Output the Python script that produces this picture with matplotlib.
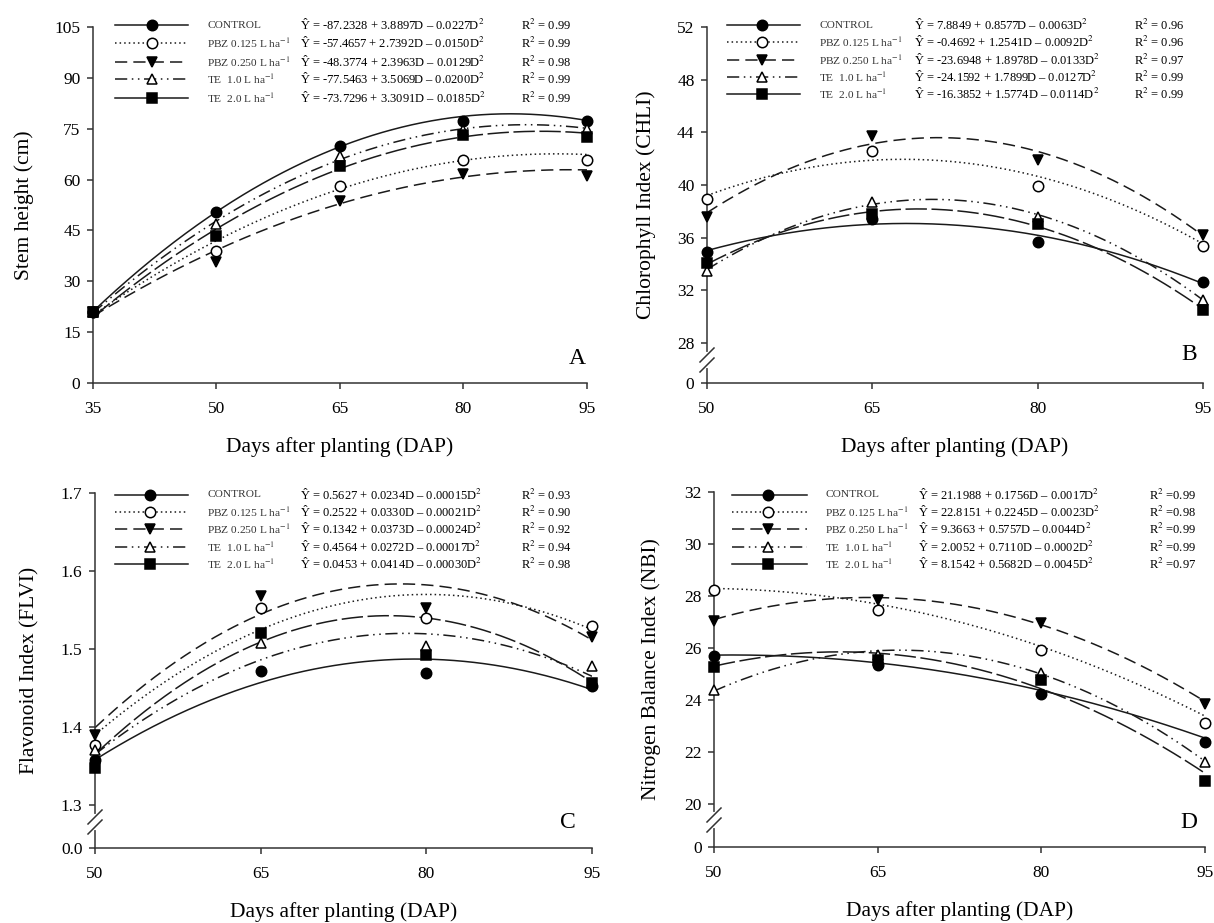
import matplotlib
matplotlib.use("Agg")
import matplotlib.pyplot as plt
import numpy as np
from matplotlib.lines import Line2D

plt.rcParams["font.family"] = ["Liberation Serif", "DejaVu Serif"]
plt.rcParams["mathtext.fontset"] = "stix"

W, H = 1214, 923

TREATMENTS = ["CONTROL", r"PBZ 0.125 L ha$^{-1}$", r"PBZ 0.250 L ha$^{-1}$",
              r"TE  1.0 L ha$^{-1}$", r"TE  2.0 L ha$^{-1}$"]

DAP_A = [35, 50, 65, 80, 95]
DAP = [50, 65, 80, 95]

# measured means (one row per treatment)
stem_height = [
    [21.0, 50.4, 70.0, 77.3, 77.3],
    [21.0, 39.0, 58.2, 65.8, 65.8],
    [21.0, 35.8, 53.8, 61.7, 61.2],
    [21.0, 46.9, 67.0, 74.7, 75.0],
    [21.0, 43.4, 64.0, 73.2, 72.7],
]
chlorophyll = [
    [34.9, 37.4, 35.7, 32.6],
    [38.9, 42.6, 39.9, 35.4],
    [37.6, 43.7, 41.9, 36.2],
    [33.5, 38.7, 37.6, 31.3],
    [34.1, 37.8, 37.0, 30.5],
]
flavonoid = [
    [1.358, 1.472, 1.469, 1.452],
    [1.377, 1.552, 1.540, 1.530],
    [1.390, 1.568, 1.552, 1.516],
    [1.371, 1.508, 1.504, 1.478],
    [1.347, 1.520, 1.492, 1.457],
]
nbi = [
    [25.69, 25.34, 24.22, 22.40],
    [28.22, 27.48, 25.94, 23.10],
    [27.04, 27.84, 26.97, 23.83],
    [24.38, 25.73, 25.05, 21.60],
    [25.28, 25.53, 24.79, 20.90],
]

# quadratic trend lines a + b*D + c*D^2, as drawn in the figure
coef_stem = [(-87.2328, 3.8897, -0.0227), (-57.4657, 2.7392, -0.0150),
             (-48.3774, 2.3963, -0.0129), (-77.5463, 3.5069, -0.0200),
             (-73.7296, 3.3091, -0.0185)]
coef_chl = [(7.8849, 0.8577, -0.0063), (2.05, 1.177, -0.00868),
            (-21.58, 1.836, -0.01293), (-24.1592, 1.7899, -0.0127),
            (-16.3852, 1.5774, -0.0114)]
coef_flv = [(0.5296, 0.02424, -0.0001534), (0.29, 0.032, -0.0002),
            (0.1342, 0.0373, -0.00024), (0.3275, 0.0305, -0.000195),
            (0.068, 0.03851, -0.0002514)]
coef_nbi = [(21.1988, 0.1756, -0.0017), (22.8151, 0.2245, -0.0023),
            (10.57, 0.5413, -0.004216), (1.487, 0.7294, -0.005444),
            (10.12, 0.5116, -0.004159)]

eq_stem = ["Ŷ = -87.2328 + 3.8897D – 0.0227D$^2$", "Ŷ = -57.4657 + 2.7392D – 0.0150D$^2$",
           "Ŷ = -48.3774 + 2.3963D – 0.0129D$^2$", "Ŷ = -77.5463 + 3.5069D – 0.0200D$^2$",
           "Ŷ = -73.7296 + 3.3091D – 0.0185D$^2$"]
eq_chl = ["Ŷ = 7.8849 + 0.8577D – 0.0063D$^2$", "Ŷ = -0.4692 + 1.2541D – 0.0092D$^2$",
          "Ŷ = -23.6948 + 1.8978D – 0.0133D$^2$", "Ŷ = -24.1592 + 1.7899D – 0.0127D$^2$",
          "Ŷ = -16.3852 + 1.5774D – 0.0114D$^2$"]
eq_flv = ["Ŷ = 0.5627 + 0.0234D – 0.00015D$^2$", "Ŷ = 0.2522 + 0.0330D – 0.00021D$^2$",
          "Ŷ = 0.1342 + 0.0373D – 0.00024D$^2$", "Ŷ = 0.4564 + 0.0272D – 0.00017D$^2$",
          "Ŷ = 0.0453 + 0.0414D – 0.00030D$^2$"]
eq_nbi = ["Ŷ = 21.1988 + 0.1756D – 0.0017D$^2$", "Ŷ = 22.8151 + 0.2245D – 0.0023D$^2$",
          "Ŷ = 9.3663 + 0.5757D – 0.0044D$^2$", "Ŷ = 2.0052 + 0.7110D – 0.0002D$^2$",
          "Ŷ = 8.1542 + 0.5682D – 0.0045D$^2$"]

r2_stem = ["0.99", "0.99", "0.98", "0.99", "0.99"]
r2_chl = ["0.96", "0.96", "0.97", "0.99", "0.99"]
r2_flv = ["0.93", "0.90", "0.92", "0.94", "0.98"]
r2_nbi = ["0.99", "0.98", "0.99", "0.99", "0.97"]

LINE_STYLES = ["-", (0, (1, 2)), (0, (8, 4)), (0, (8, 3, 1, 3, 1, 3)), (0, (14, 3))]
LEGEND_STYLES = ["-", (0, (1, 2)), (0, (8, 4)), (0, (8, 3, 1, 3, 1, 3)), "-"]
MARKERS = ["o", "o", "v", "^", "s"]
FACES = ["black", "white", "black", "white", "black"]
INK = "#1a1a1a"


def fx(x):
    return x / W


def fy(y):
    return 1 - y / H


panels = [
    dict(x=DAP_A, y=stem_height, coef=coef_stem, eqs=eq_stem, r2=r2_stem, r2sep=" = ",
         box=(93, 27, 587, 383), ylim=(0, 105), yticks=list(range(0, 106, 15)),
         ylabels=[str(v) for v in range(0, 106, 15)], ylabel="Stem height (cm)",
         letter="A", letter_xy=(577, 358), brk=None, ylab_x=-0.14,
         leg=dict(line=(115, 188), mk=152, text=207, eq=300, r2=521, rows=[25, 43, 62, 79, 98])),
    dict(x=DAP, y=chlorophyll, coef=coef_chl, eqs=eq_chl, r2=r2_chl, r2sep=" = ",
         box=(707, 27, 1203, 383), ylim=(24.96, 52), yticks=[24.96, 28, 32, 36, 40, 44, 48, 52],
         ylabels=["0", "28", "32", "36", "40", "44", "48", "52"], ylabel="Chlorophyll Index (CHLI)",
         letter="B", letter_xy=(1189, 355), brk=360, ylab_x=-0.122,
         leg=dict(line=(727, 800), mk=762, text=819, eq=914, r2=1134, rows=[25, 42, 60, 77, 94])),
    dict(x=DAP, y=flavonoid, coef=coef_flv, eqs=eq_flv, r2=r2_flv, r2sep=" = ",
         box=(95, 493, 592, 848), ylim=(1.245, 1.7), yticks=[1.245, 1.3, 1.4, 1.5, 1.6, 1.7],
         ylabels=["0.0", "1.3", "1.4", "1.5", "1.6", "1.7"], ylabel="Flavonoid Index (FLVI)",
         letter="C", letter_xy=(568, 823), brk=822, ylab_x=-0.131,
         leg=dict(line=(115, 188), mk=150, text=207, eq=300, r2=521, rows=[495, 512, 529, 547, 564])),
    dict(x=DAP, y=nbi, coef=coef_nbi, eqs=eq_nbi, r2=r2_nbi, r2sep=" =",
         box=(714, 492, 1205, 847), ylim=(18.35, 32), yticks=[18.35, 20, 22, 24, 26, 28, 30, 32],
         ylabels=["0", "20", "22", "24", "26", "28", "30", "32"], ylabel="Nitrogen Balance Index (NBI)",
         letter="D", letter_xy=(1189, 822), brk=820, ylab_x=-0.129,
         leg=dict(line=(732, 807), mk=768, text=825, eq=918, r2=1149, rows=[495, 512, 529, 547, 564])),
]

fig = plt.figure(figsize=(W / 100, H / 100), dpi=100)

for p in panels:
    l, t, r, b = p["box"]
    ax = fig.add_axes([fx(l), fy(b), (r - l) / W, (b - t) / H])
    xs = p["x"]
    dd = np.linspace(xs[0], xs[-1], 300)
    for i in range(5):
        a, bb, c = p["coef"][i]
        ax.plot(dd, a + bb * dd + c * dd ** 2, color=INK, lw=1.1, ls=LINE_STYLES[i], zorder=2)
        ax.plot(xs, p["y"][i], ls="none", marker=MARKERS[i], ms=7.5, mfc=FACES[i],
                mec="black", mew=1.1, zorder=3, clip_on=False)

    ax.set_xlim(xs[0], xs[-1])
    ax.set_xticks(xs)
    ax.set_ylim(*p["ylim"])
    ax.set_yticks(p["yticks"])
    ax.set_yticklabels(p["ylabels"])
    for s in ["top", "right"]:
        ax.spines[s].set_visible(False)
    for s in ["left", "bottom"]:
        ax.spines[s].set_color("#333")
        ax.spines[s].set_linewidth(1.1)
    ax.tick_params(direction="out", length=4, width=1.1, color="#333", labelsize=12.5)
    ax.tick_params(axis="x", pad=9)
    ax.tick_params(axis="y", pad=5)

    ax.set_xlabel("Days after planting (DAP)", fontsize=15.5, va="center")
    ax.xaxis.set_label_coords(0.5, -0.18)
    ax.set_ylabel(p["ylabel"], fontsize=15.5, va="center")
    ax.yaxis.set_label_coords(p["ylab_x"], 0.5)

    # legend drawn by hand: line sample, label, equation, R2
    lg = p["leg"]
    for i, row in enumerate(lg["rows"]):
        fig.add_artist(Line2D([fx(lg["line"][0]), fx(lg["line"][1])], [fy(row), fy(row)],
                              color=INK, lw=1.1, ls=LEGEND_STYLES[i]))
        fig.add_artist(Line2D([fx(lg["mk"])], [fy(row)], marker=MARKERS[i], ms=7.5,
                              mfc=FACES[i], mec="black", mew=1.1, ls="none"))
        fig.text(fx(lg["text"]), fy(row), TREATMENTS[i], fontsize=8.2, va="center",
                 color="#333")
        fig.text(fx(lg["eq"]), fy(row), p["eqs"][i], fontsize=9, va="center")
        fig.text(fx(lg["r2"]), fy(row), "R$^2$" + p["r2sep"] + p["r2"][i], fontsize=9,
                 va="center")

    fig.text(fx(p["letter_xy"][0]), fy(p["letter_xy"][1]), p["letter"], fontsize=17,
             ha="center", va="center")

    # broken axis marks
    if p["brk"] is not None:
        yb = p["brk"]
        fig.add_artist(Line2D([fx(l), fx(l)], [fy(yb - 6), fy(yb + 6)], color="white", lw=3))
        for off in (-5, 5):
            fig.add_artist(Line2D([fx(l - 7), fx(l + 7)], [fy(yb + off + 7), fy(yb + off - 7)],
                                  color="#333", lw=1.1))

fig.savefig("out.png", dpi=100, facecolor="white")
